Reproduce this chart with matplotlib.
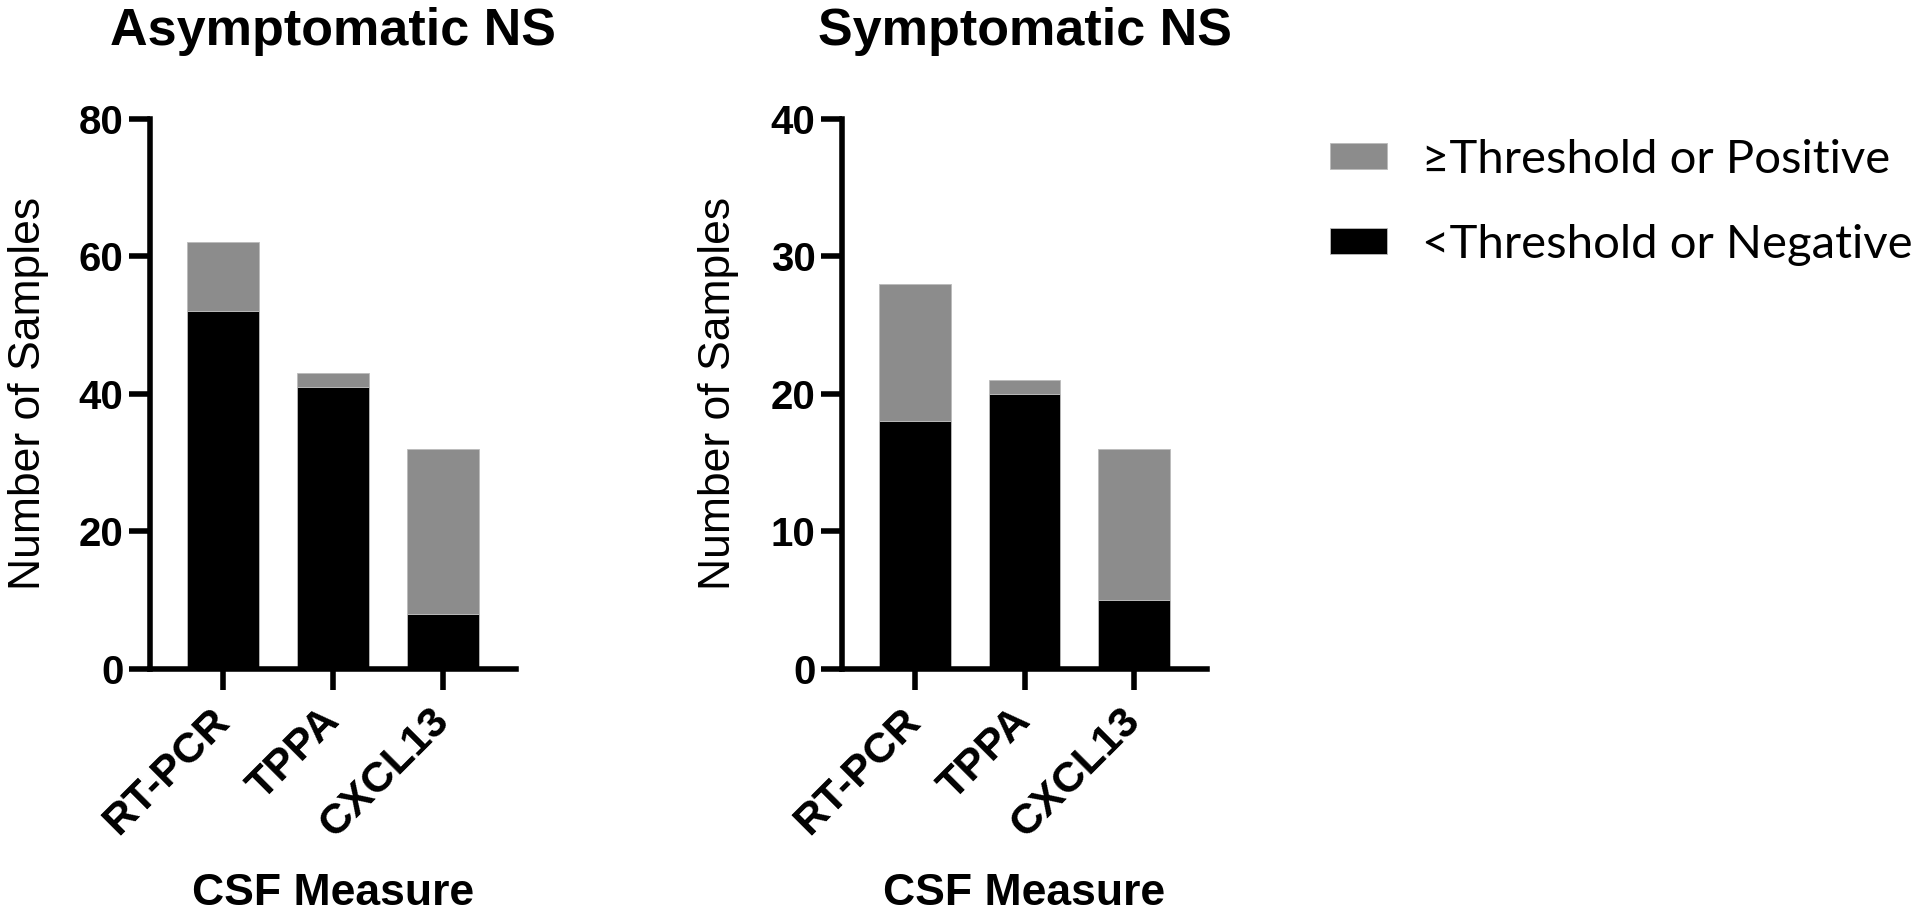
import matplotlib
matplotlib.use("Agg")
import matplotlib.pyplot as plt
from matplotlib.patches import Patch
import numpy as np

# values
measures = ["RT-PCR", "TPPA", "CXCL13"]
asym_neg = [52, 41, 8]
asym_pos = [10, 2, 24]
sym_neg = [18, 20, 5]
sym_pos = [10, 1, 11]
panel_titles = ["Asymptomatic NS", "Symptomatic NS"]
y_max = [80, 40]
y_step = [20, 10]
legend_labels = ["\u2265Threshold or Positive", "<Threshold or Negative"]

gray = "#8c8c8c"
sans = "Liberation Sans"

fig = plt.figure(figsize=(19.2, 9.15), dpi=100)
ax1 = fig.add_axes([150 / 1920, 1 - 669 / 915, 366 / 1920, 550.5 / 915])
ax2 = fig.add_axes([842 / 1920, 1 - 669 / 915, 365 / 1920, 550.5 / 915])

panels = [(ax1, asym_neg, asym_pos), (ax2, sym_neg, sym_pos)]
label_x = [-0.276, -0.282]

for i, (ax, neg, pos) in enumerate(panels):
    x = np.arange(len(measures))
    ax.bar(x, neg, width=0.655, color="black", edgecolor="#bbbbbb", linewidth=0.6)
    ax.bar(x, pos, width=0.655, bottom=neg, color=gray, edgecolor="#bbbbbb", linewidth=0.6)

    ax.set_xlim(-0.664, 2.664)
    ax.set_ylim(0, y_max[i])
    ax.set_yticks(np.arange(0, y_max[i] + 1, y_step[i]))
    ax.set_xticks(x)
    ax.set_xticklabels(measures, rotation=45, ha="right", va="center",
                       rotation_mode="anchor",
                       fontsize=31, fontweight="bold", family=sans)
    for t in ax.get_yticklabels():
        t.set_fontsize(29)
        t.set_fontweight("bold")
        t.set_family(sans)

    for s in ["top", "right"]:
        ax.spines[s].set_visible(False)
    for s in ["left", "bottom"]:
        ax.spines[s].set_linewidth(4)
    ax.tick_params(axis="both", width=4, length=15, pad=4)
    ax.tick_params(axis="x", pad=18)

    ax.set_ylabel("Number of Samples", fontsize=32, family=sans)
    ax.yaxis.set_label_coords(label_x[i], 0.5)
    ax.set_xlabel("CSF Measure", fontsize=32, fontweight="bold", family=sans)
    ax.xaxis.set_label_coords(0.5, -0.37)

    ax.text(0.5, 1.1335, panel_titles[i], transform=ax.transAxes, ha="center",
            va="baseline", fontsize=37.5, fontweight="bold", family=sans)

handles = [Patch(facecolor=gray, edgecolor="#bbbbbb", linewidth=0.6),
           Patch(facecolor="black", edgecolor="#bbbbbb", linewidth=0.6)]
fig.legend(handles, legend_labels, loc="upper left",
           bbox_to_anchor=(1330 / 1920, 1 - 139 / 915), frameon=False,
           prop={"family": ["Lato", "DejaVu Sans"], "size": 34},
           handlelength=1.2, handleheight=0.46, handletextpad=0.75,
           labelspacing=0.9, borderpad=0, borderaxespad=0)

fig.savefig("out.png", dpi=100, facecolor="white")
